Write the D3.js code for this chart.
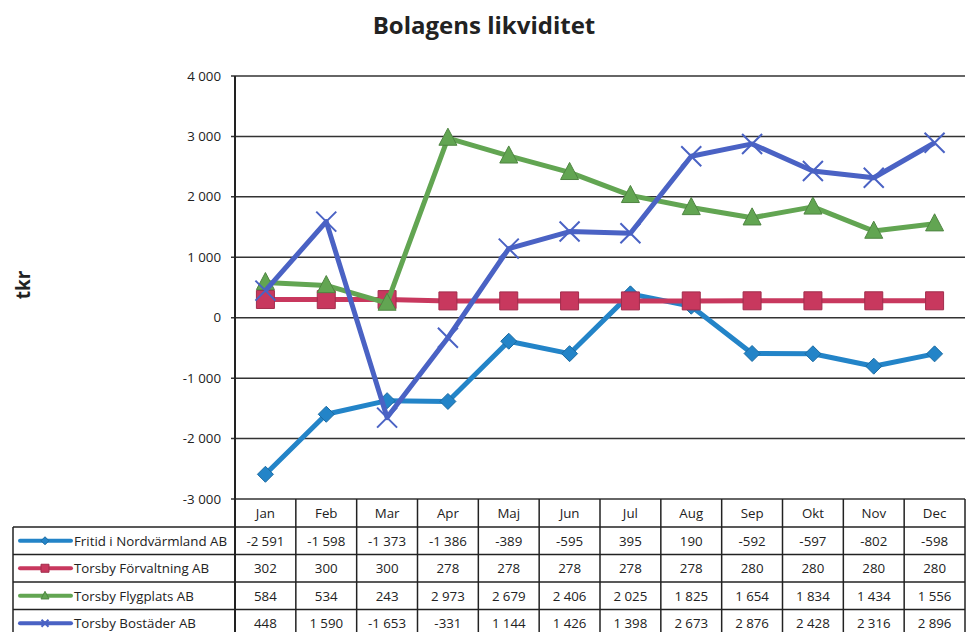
<!DOCTYPE html>
<html>
<head>
<meta charset="utf-8">
<title>Bolagens likviditet</title>
<style>
    body { margin: 0; background: #fff; font-family: "Open Sans", Arial, sans-serif; }
    svg text { fill: #222; }
</style>
<script src="https://d3js.org/d3.v7.min.js"></script>
</head>
<body>
<svg id="chart" width="966" height="632"></svg>
<script>
var months = ["Jan", "Feb", "Mar", "Apr", "Maj", "Jun", "Jul", "Aug", "Sep", "Okt", "Nov", "Dec"];
var seriesNames = ["Fritid i Nordvärmland AB", "Torsby Förvaltning AB", "Torsby Flygplats AB", "Torsby Bostäder AB"];
var fritid = [-2591, -1598, -1373, -1386, -389, -595, 395, 190, -592, -597, -802, -598];
var forvaltning = [302, 300, 300, 278, 278, 278, 278, 278, 280, 280, 280, 280];
var flygplats = [584, 534, 243, 2973, 2679, 2406, 2025, 1825, 1654, 1834, 1434, 1556];
var bostader = [448, 1590, -1653, -331, 1144, 1426, 1398, 2673, 2876, 2428, 2316, 2896];
var yTicks = [-3000, -2000, -1000, 0, 1000, 2000, 3000, 4000];

var colors = ["#2384c8", "#c8385e", "#62a552", "#4a62c4"];
var markers = ["diamond", "square", "triangle", "cross"];
var allValues = [fritid, forvaltning, flygplats, bostader];

var svg = d3.select("#chart");
var plotLeft = 235, plotRight = 965, plotTop = 76, plotBottom = 499;
var rowH = 27.5;
var fontSize = "13.3px";

var locale = d3.formatLocale({ decimal: ",", thousands: "\u2005", grouping: [3], currency: ["", " kr"], minus: "-" });
var fmt = locale.format(",d");
var axisFmt = d3.formatLocale({ decimal: ",", thousands: "\u00a0", grouping: [3], currency: ["", " kr"], minus: "-" }).format(",d");

var x = d3.scaleBand().domain(months).range([plotLeft, plotRight]);
var y = d3.scaleLinear().domain([-3000, 4000]).range([plotBottom, plotTop]);

// title
svg.append("text")
    .attr("x", 484).attr("y", 34)
    .attr("text-anchor", "middle")
    .style("font-size", "24px").style("font-weight", "bold")
    .text("Bolagens likviditet");

svg.append("text")
    .attr("transform", "translate(30,285) rotate(-90)")
    .attr("text-anchor", "middle")
    .style("font-size", "19px").style("font-weight", "bold")
    .text("tkr");

// grid
svg.append("g")
    .selectAll("line")
    .data(yTicks)
    .enter()
    .append("line")
    .attr("x1", plotLeft - 4).attr("x2", plotRight)
    .attr("y1", function(d) { return y(d); })
    .attr("y2", function(d) { return y(d); })
    .attr("stroke", "#333").attr("stroke-width", 1.5);

svg.append("g")
    .selectAll("text")
    .data(yTicks)
    .enter()
    .append("text")
    .attr("x", plotLeft - 14)
    .attr("y", function(d) { return y(d) + 4.5; })
    .attr("text-anchor", "end")
    .style("font-size", "13.3px")
    .text(function(d) { return axisFmt(d); });

svg.append("line")
    .attr("x1", plotLeft).attr("x2", plotLeft)
    .attr("y1", plotTop).attr("y2", 632)
    .attr("stroke", "#222").attr("stroke-width", 2);

// table
var table = svg.append("g");
var tableTop = plotBottom;
var headerBottom = tableTop + 28;

table.append("line")
    .attr("x1", plotRight).attr("x2", plotRight)
    .attr("y1", tableTop).attr("y2", 632)
    .attr("stroke", "#222").attr("stroke-width", 1.5);

table.selectAll("line.col")
    .data(months.slice(1))
    .enter()
    .append("line")
    .attr("class", "col")
    .attr("x1", function(d) { return x(d); })
    .attr("x2", function(d) { return x(d); })
    .attr("y1", tableTop).attr("y2", 632)
    .attr("stroke", "#222").attr("stroke-width", 1.5);

table.selectAll("text.month")
    .data(months)
    .enter()
    .append("text")
    .attr("class", "month")
    .attr("x", function(d) { return x(d) + x.bandwidth() / 2; })
    .attr("y", tableTop + 19)
    .attr("text-anchor", "middle")
    .style("font-size", fontSize)
    .text(function(d) { return d; });

var rowTops = d3.range(seriesNames.length).map(function(i) { return headerBottom + i * rowH; });

table.selectAll("line.row")
    .data(rowTops)
    .enter()
    .append("line")
    .attr("class", "row")
    .attr("x1", 13).attr("x2", plotRight)
    .attr("y1", function(d) { return d; })
    .attr("y2", function(d) { return d; })
    .attr("stroke", "#222").attr("stroke-width", 1.5);

table.append("line")
    .attr("x1", 13).attr("x2", 13)
    .attr("y1", headerBottom).attr("y2", 632)
    .attr("stroke", "#222").attr("stroke-width", 1.5);

function markerPath(type, size) {
    var s = size / 2;
    if (type == "diamond") return "M0," + (-s) + "L" + s + ",0L0," + s + "L" + (-s) + ",0Z";
    if (type == "square") return "M" + (-s) + "," + (-s) + "H" + s + "V" + s + "H" + (-s) + "Z";
    if (type == "triangle") return "M0," + (-s * 1.1) + "L" + s + "," + (s * 0.8) + "L" + (-s) + "," + (s * 0.8) + "Z";
    return "M" + (-s) + "," + (-s) + "L" + s + "," + s + "M" + s + "," + (-s) + "L" + (-s) + "," + s;
}

function drawMarker(g, type, color, size) {
    if (type == "cross") {
        g.append("path").attr("d", markerPath(type, size))
            .attr("fill", "none").attr("stroke", color).attr("stroke-width", 2);
    } else {
        g.append("path").attr("d", markerPath(type, size))
            .attr("fill", color)
            .attr("stroke", d3.color(color).darker(0.6)).attr("stroke-width", 1);
    }
}

seriesNames.forEach(function(name, i) {
    var ty = rowTops[i];
    var g = table.append("g");
    g.append("line")
        .attr("x1", 20).attr("x2", 71)
        .attr("y1", ty + rowH / 2).attr("y2", ty + rowH / 2)
        .attr("stroke", colors[i]).attr("stroke-width", 4)
        .attr("stroke-linecap", "round");
    var m = g.append("g").attr("transform", "translate(45," + (ty + rowH / 2) + ")");
    drawMarker(m, markers[i], colors[i], i == 3 ? 7 : 8);
    g.append("text")
        .attr("x", 74).attr("y", ty + rowH / 2 + 5)
        .style("font-size", fontSize)
        .text(name);
    g.selectAll("text.val")
        .data(allValues[i])
        .enter()
        .append("text")
        .attr("class", "val")
        .attr("x", function(d, j) { return x(months[j]) + x.bandwidth() / 2; })
        .attr("y", ty + rowH / 2 + 5)
        .attr("text-anchor", "middle")
        .style("font-size", fontSize)
        .text(function(d) { return fmt(d); });
});

// lines
var line = d3.line()
    .x(function(d, j) { return x(months[j]) + x.bandwidth() / 2; })
    .y(function(d) { return y(d); });

var plot = svg.append("g");
allValues.forEach(function(vals, i) {
    var g = plot.append("g");
    g.append("path")
        .datum(vals)
        .attr("d", line)
        .attr("fill", "none")
        .attr("stroke", colors[i])
        .attr("stroke-width", 5)
        .attr("stroke-linejoin", "round");
    g.selectAll("g.mk")
        .data(vals)
        .enter()
        .append("g")
        .attr("class", "mk")
        .attr("transform", function(d, j) {
            return "translate(" + (x(months[j]) + x.bandwidth() / 2) + "," + y(d) + ")";
        })
        .each(function() {
            drawMarker(d3.select(this), markers[i], colors[i], i == 3 ? 20 : (i == 0 ? 16 : 18));
        });
});
</script>
</body>
</html>
